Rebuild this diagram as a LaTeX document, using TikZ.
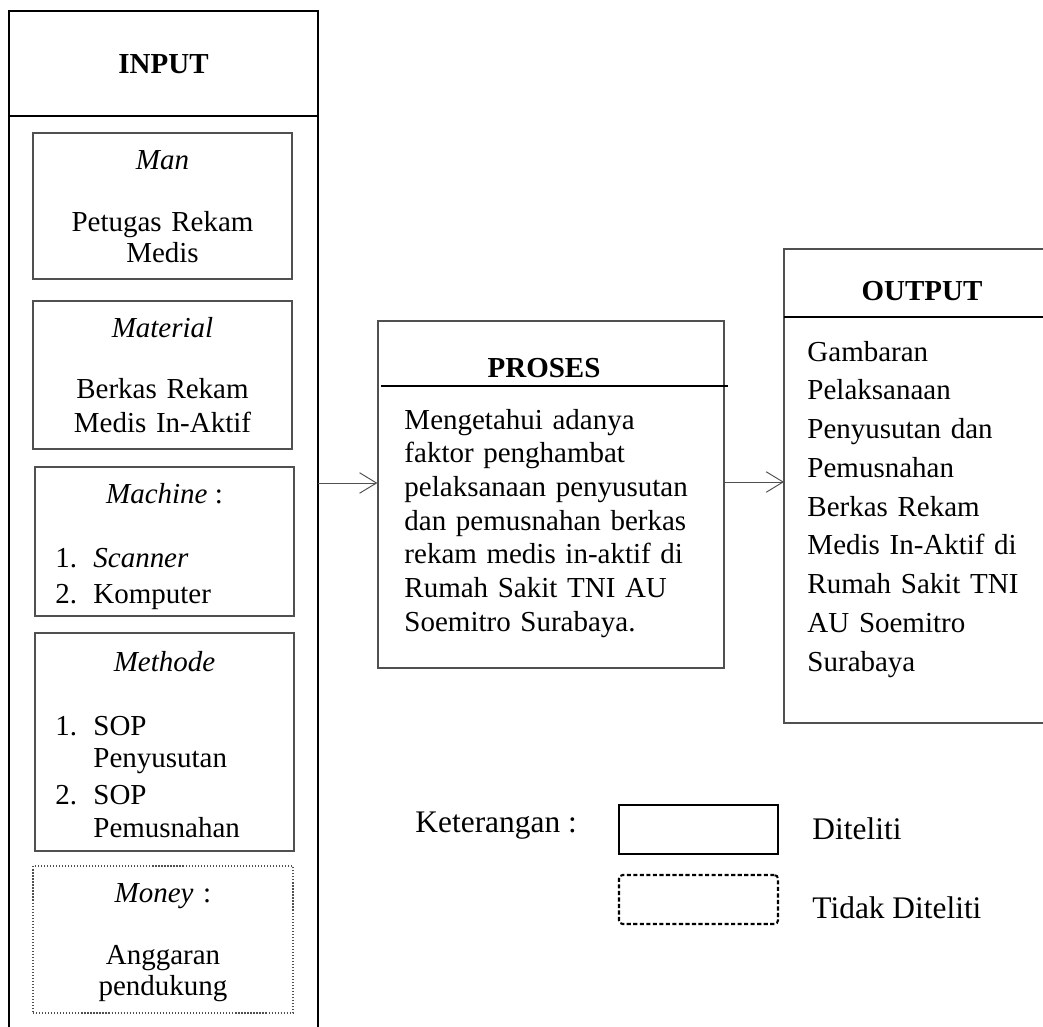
\documentclass[tikz,border=0pt]{standalone}
\usepackage{fontspec}
\setmainfont{Liberation Serif}
\usetikzlibrary{arrows.meta}
\definecolor{boxgray}{HTML}{505050}
\def\u{0.414pt}
\tikzset{
  frame/.style={draw=black, line width=0.6pt},
  hdrline/.style={draw=black, line width=0.85pt},
  ibox/.style={draw=boxgray, line width=0.5pt, rectangle, inner sep=0pt},
  dotbox/.style={draw=boxgray, line width=0.45pt, dash pattern=on 0.5pt off 0.75pt, rectangle, inner sep=0pt},
  legsolid/.style={draw=black, line width=0.85pt, rectangle, inner sep=0pt},
  legdash/.style={draw=black, line width=0.85pt, dash pattern=on 1.7pt off 1.0pt, rounded corners=1.5pt, rectangle, inner sep=0pt},
  arr/.style={draw=boxgray, line width=0.4pt, -{Straight Barb[length=7pt,width=8.5pt,line width=0.4pt]}},
  hd/.style={inner sep=0pt, anchor=base, font=\fontsize{12}{14}\selectfont\bfseries},
  txt/.style={inner sep=0pt, anchor=base, font=\fontsize{12}{14}\selectfont},
  leg/.style={inner sep=0pt, anchor=base west, font=\fontsize{13}{15}\selectfont},
}
\begin{document}
\begin{tikzpicture}[x=0.414pt,y=-0.414pt]
\useasboundingbox (0,0) rectangle (1043,1027);

% INPUT frame
\coordinate (inTL) at (9,11);
\coordinate (inTR) at (318,11);
\coordinate (inBL) at (9,1032);
\coordinate (inBR) at (318,1032);
\draw[frame] (inBL) -- (inTL) -- (inTR) -- (inBR);
\coordinate (inHL) at (9,116);
\coordinate (inHR) at (318,116);
\draw[hdrline] (inHL) -- (inHR);
\node[hd] (tInput) at (163.5,74) {INPUT};

% Man
\node[ibox, minimum width=259*\u, minimum height=146*\u] (man) at (162.5,206) {};
\node[txt, text width=250*\u, align=center, font=\fontsize{12}{12.6}\selectfont]
  (tMan) at (162.5,170) {\textit{Man}\\[13pt]Petugas Rekam\\Medis};

% Material
\node[ibox, minimum width=259*\u, minimum height=148*\u] (material) at (162.5,375) {};
\node[txt, text width=250*\u, align=center, font=\fontsize{12}{13.95}\selectfont]
  (tMaterial) at (162.5,337) {\textit{Material}\\[11.7pt]Berkas Rekam\\Medis In-Aktif};

% Machine
\node[ibox, minimum width=259*\u, minimum height=149*\u] (machine) at (164.5,541.5) {};
\node[txt] (tMachine) at (164.5,503) {\textit{Machine} :};
\node[txt, anchor=base west, text width=230*\u, align=left, font=\fontsize{12}{13.45}\selectfont]
  (lMachine) at (55,567) {\makebox[15.7pt][l]{1.}\textit{Scanner}\\[1.7pt]\makebox[15.7pt][l]{2.}Komputer};

% Methode
\node[ibox, minimum width=259*\u, minimum height=218*\u] (methode) at (164.5,742) {};
\node[txt] (tMethode) at (164.5,671) {\textit{Methode}};
\node[txt, anchor=base west, text width=230*\u, align=left, font=\fontsize{12}{13.45}\selectfont]
  (lMethode) at (55,735) {\makebox[15.7pt][l]{1.}SOP\\\hspace*{15.7pt}Penyusutan\\[1.9pt]\makebox[15.7pt][l]{2.}SOP\\\hspace*{15.7pt}Pemusnahan};

% Money
\node[dotbox, minimum width=260*\u, minimum height=147*\u] (money) at (163,939.5) {};
\node[txt, text width=250*\u, align=center, font=\fontsize{12}{12.85}\selectfont]
  (tMoney) at (163,902) {\textit{Money} :\\[12.85pt]Anggaran\\pendukung};

% PROSES
\node[ibox, minimum width=346*\u, minimum height=347*\u] (proses) at (551,494.5) {};
\coordinate (prHL) at (381,386);
\coordinate (prHR) at (728,386);
\draw[hdrline] (prHL) -- (prHR);
\node[hd] (tProses) at (544,377) {PROSES};
\node[txt, anchor=base west, text width=320*\u, align=left, font=\fontsize{12}{13.95}\selectfont]
  (bProses) at (404,429) {Mengetahui adanya\\faktor penghambat\\pelaksanaan penyusutan\\dan pemusnahan berkas\\rekam medis in-aktif di\\Rumah Sakit TNI AU\\Soemitro Surabaya.};

% OUTPUT frame
\coordinate (outTR) at (1048,249);
\coordinate (outTL) at (784,249);
\coordinate (outBL) at (784,723);
\coordinate (outBR) at (1048,723);
\draw[draw=boxgray, line width=0.5pt] (outTR) -- (outTL) -- (outBL) -- (outBR);
\coordinate (outHL) at (784,317);
\coordinate (outHR) at (1048,317);
\draw[hdrline] (outHL) -- (outHR);
\node[hd] (tOutput) at (922,300) {OUTPUT};
\node[txt, anchor=base west, text width=230*\u, align=left, font=\fontsize{12}{16.06}\selectfont]
  (bOutput) at (807,361) {Gambaran\\Pelaksanaan\\Penyusutan dan\\Pemusnahan\\Berkas Rekam\\Medis In-Aktif di\\Rumah Sakit TNI\\AU Soemitro\\Surabaya};

% connectors
\coordinate (inR) at (318,483);
\coordinate (outL) at (784,482);
\draw[arr] (inR) -- (proses.west |- inR);
\draw[arr] (proses.east |- outL) -- (outL);

% Legend
\node[leg] (tKet) at (415,832) {Keterangan :};
\node[legsolid, minimum width=159*\u, minimum height=49*\u] (legA) at (698.5,829.5) {};
\node[legdash, minimum width=159*\u, minimum height=49*\u] (legB) at (698.5,899.5) {};
\node[leg] (tDit) at (812,839) {Diteliti};
\node[leg] (tTdk) at (812,918) {Tidak Diteliti};
\end{tikzpicture}
\end{document}
